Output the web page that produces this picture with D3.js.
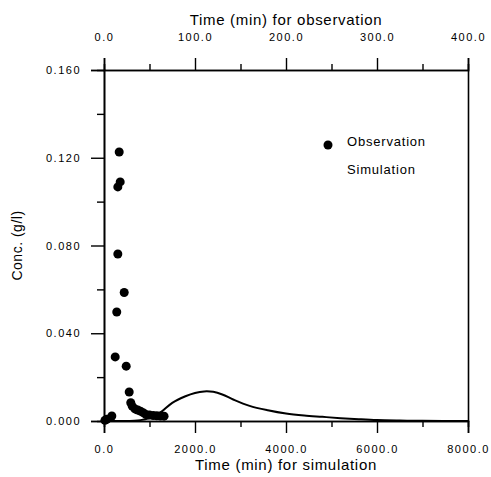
<!DOCTYPE html>
<html>
<head>
<meta charset="utf-8">
<script src="https://cdn.jsdelivr.net/npm/d3@7"></script>
<style>
  body { margin: 0; background: #fff; }
  svg text { font-family: "Liberation Sans", Arial, sans-serif; font-weight: normal; }
</style>
</head>
<body>
<div id="chart"></div>
<script>
// observation: time (min, top axis) and concentration (g/l)
const obsTime = [1, 3, 8.6, 12.3, 14, 15.2, 15.2, 17.8, 16.7, 22.2, 24.4, 27.7, 29.4,
  31, 34, 37, 40, 43, 46, 50, 54, 58, 62, 66];
const obsConc = [0.0003, 0.0008, 0.0023, 0.0292, 0.0497, 0.0761, 0.1067, 0.109, 0.1226, 0.0586, 0.025, 0.0132, 0.0083,
  0.0068, 0.0055, 0.005, 0.0045, 0.0038, 0.003, 0.0027, 0.0025, 0.0024, 0.0023, 0.0022];

// simulation: time (min, bottom axis) and concentration (g/l)
const simTime = [0, 400, 800, 1000, 1150, 1280, 1500, 1790, 2000, 2200, 2400, 2600, 2850, 3200, 3600,
  4000, 4400, 4800, 5200, 5600, 6000, 6500, 7000, 8000];
const simConc = [0, 0, 0.0004, 0.0013, 0.0027, 0.0045, 0.0083, 0.0113, 0.0128, 0.0135, 0.0133, 0.0121, 0.0097, 0.0069, 0.0049,
  0.0034, 0.0025, 0.0019, 0.0013, 0.0008, 0.0004, 0.0002, 0.0001, 0];

const obsTicks = [0, 100, 200, 300, 400];
const obsMinor = [50, 150, 250, 350];
const simTicks = [0, 2000, 4000, 6000, 8000];
const simMinor = [1000, 3000, 5000, 7000];
const concTicks = [0, 0.04, 0.08, 0.12, 0.16];
const concMinor = [0.02, 0.06, 0.1, 0.14];

const W = 491, H = 477;
const margin = { top: 70, right: 23, bottom: 56, left: 104 };
const width = W - margin.left - margin.right;
const height = H - margin.top - margin.bottom;

const svg = d3.select("#chart").append("svg")
  .attr("width", W).attr("height", H);
const g = svg.append("g")
  .attr("transform", `translate(${margin.left},${margin.top})`);

const xObs = d3.scaleLinear().domain([0, 400]).range([0, width]);
const xSim = d3.scaleLinear().domain([0, 8000]).range([0, width]);
const y = d3.scaleLinear().domain([0, 0.16]).range([height, 0]);

const fmt1 = d3.format(".1f");
const fmt3 = d3.format(".3f");

function styleAxis(sel) {
  sel.attr("font-family", null);
  sel.selectAll(".domain").attr("stroke", "#000").attr("stroke-width", 1.6);
  sel.selectAll(".tick line").attr("stroke", "#000").attr("stroke-width", 1.4);
  sel.selectAll("text")
    .attr("fill", "#000")
    .style("font-size", "11px")
    .style("letter-spacing", "1.5px");
}

// minor ticks first (no labels)
g.append("g").attr("transform", `translate(0,${height})`)
  .call(d3.axisBottom(xSim).tickValues(simMinor).tickSize(6).tickFormat(""))
  .call(styleAxis);
g.append("g")
  .call(d3.axisTop(xObs).tickValues(obsMinor).tickSize(6).tickFormat(""))
  .call(styleAxis);
g.append("g")
  .call(d3.axisLeft(y).tickValues(concMinor).tickSize(7).tickFormat(""))
  .call(styleAxis);

// major ticks
g.append("g").attr("transform", `translate(0,${height})`)
  .call(d3.axisBottom(xSim).tickValues(simTicks).tickSize(12).tickPadding(12).tickFormat(fmt1))
  .call(styleAxis);
g.append("g")
  .call(d3.axisTop(xObs).tickValues(obsTicks).tickSize(12).tickPadding(17).tickFormat(fmt1))
  .call(styleAxis);
g.append("g")
  .call(d3.axisLeft(y).tickValues(concTicks).tickSize(13).tickPadding(10).tickFormat(fmt3))
  .call(styleAxis);
g.append("g").attr("transform", `translate(${width},0)`)
  .call(d3.axisRight(y).tickValues([]).tickSize(0))
  .call(styleAxis);

// axis titles
svg.append("text")
  .attr("x", margin.left + width / 2).attr("y", 25)
  .attr("text-anchor", "middle")
  .style("font-size", "15px").style("letter-spacing", "0.7px")
  .text("Time (min) for observation");
svg.append("text")
  .attr("x", margin.left + width / 2).attr("y", 470)
  .attr("text-anchor", "middle")
  .style("font-size", "15px").style("letter-spacing", "0.7px")
  .text("Time (min) for simulation");
svg.append("text")
  .attr("transform", `translate(22,${margin.top + height / 2}) rotate(-90)`)
  .attr("text-anchor", "middle")
  .style("font-size", "14px").style("letter-spacing", "0.5px")
  .text("Conc. (g/l)");

// simulation curve
const simData = simTime.map((t, i) => ({ t, c: simConc[i] }));
g.append("path")
  .datum(simData)
  .attr("fill", "none")
  .attr("stroke", "#000")
  .attr("stroke-width", 2)
  .attr("d", d3.line().x(d => xSim(d.t)).y(d => y(d.c)).curve(d3.curveCatmullRom));

// observation points
const obsData = obsTime.map((t, i) => ({ t, c: obsConc[i] }));
g.selectAll("circle.obs")
  .data(obsData)
  .join("circle")
  .attr("class", "obs")
  .attr("cx", d => xObs(d.t))
  .attr("cy", d => y(d.c))
  .attr("r", 4.5)
  .attr("fill", "#000");

// legend
const legend = svg.append("g").attr("transform", "translate(328,145)");
legend.append("circle").attr("r", 4.5).attr("fill", "#000");
legend.append("text").attr("x", 19).attr("y", 1)
  .style("font-size", "13px").style("letter-spacing", "0.8px")
  .text("Observation");
legend.append("text").attr("x", 19).attr("y", 29)
  .style("font-size", "13px").style("letter-spacing", "0.8px")
  .text("Simulation");
</script>
</body>
</html>
